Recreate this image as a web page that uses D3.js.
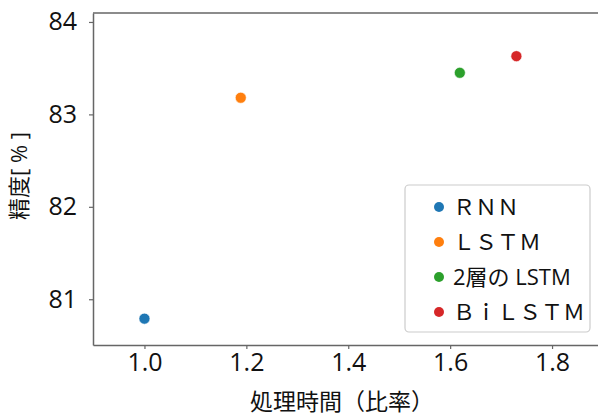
<!DOCTYPE html>
<html>
<head>
<meta charset="utf-8">
<script src="https://cdn.jsdelivr.net/npm/d3@7"></script>
<style>
  body { margin: 0; background: #fff; }
  svg { display: block; }
  text { font-family: "Open Sans", "Noto Sans CJK JP", sans-serif; fill: #111; }
</style>
</head>
<body>
<script>
// data
const models = ["ＲＮＮ", "ＬＳＴＭ", "2層の LSTM", "ＢｉＬＳＴＭ"];
const timeRatio = [1.0, 1.189, 1.619, 1.73];
const accuracy = [80.79, 83.18, 83.45, 83.63];
const colors = ["#1f77b4", "#ff7f0e", "#2ca02c", "#d62728"];
const xTicks = [1.0, 1.2, 1.4, 1.6, 1.8];
const yTicks = [81, 82, 83, 84];

const width = 598, height = 418;
const plotLeft = 93, plotRight = 603, plotTop = 13, plotBottom = 345;
const fontStack = "'Open Sans', 'Noto Sans CJK JP', sans-serif";

const svg = d3.select("body").append("svg")
  .attr("width", width)
  .attr("height", height);

const x = d3.scaleLinear().domain([0.899, 1.9]).range([plotLeft, plotRight]);
const y = d3.scaleLinear().domain([80.505, 84.097]).range([plotBottom, plotTop]);

// axes
const xAxis = svg.append("g")
  .attr("transform", `translate(0,${plotBottom})`)
  .call(d3.axisBottom(x).tickValues(xTicks).tickFormat(d3.format(".1f"))
    .tickSizeInner(4).tickSizeOuter(0).tickPadding(4));
const yAxis = svg.append("g")
  .attr("transform", `translate(${plotLeft},0)`)
  .call(d3.axisLeft(y).tickValues(yTicks).tickFormat(d3.format("d"))
    .tickSizeInner(4).tickSizeOuter(0).tickPadding(12));

[xAxis, yAxis].forEach(g => {
  g.select(".domain").attr("stroke", "#666").attr("stroke-width", 1.5);
  g.selectAll(".tick line").attr("stroke", "#666").attr("stroke-width", 1.2);
  g.selectAll(".tick text").attr("font-size", 25).attr("fill", "#111")
    .style("font-family", fontStack);
});

// top spine
svg.append("line")
  .attr("x1", plotLeft).attr("x2", plotRight)
  .attr("y1", plotTop).attr("y2", plotTop)
  .attr("stroke", "#666").attr("stroke-width", 1.5);

// points
svg.selectAll("circle.pt")
  .data(models)
  .enter()
  .append("circle")
  .attr("class", "pt")
  .attr("cx", (d, i) => x(timeRatio[i]))
  .attr("cy", (d, i) => y(accuracy[i]))
  .attr("r", 5.5)
  .attr("fill", (d, i) => colors[i])
  .attr("stroke", "#fff")
  .attr("stroke-width", 0.6);

// axis labels
svg.append("text")
  .attr("x", 342)
  .attr("y", 410)
  .attr("text-anchor", "middle")
  .attr("font-size", 23)
  .text("処理時間（比率）");

svg.append("text")
  .attr("transform", "translate(27,176) rotate(-90)")
  .attr("text-anchor", "middle")
  .attr("font-size", 22)
  .text("精度[ % ]");

// legend
const legend = svg.append("g");
legend.append("rect")
  .attr("x", 405).attr("y", 185)
  .attr("width", 185).attr("height", 147)
  .attr("rx", 4)
  .attr("fill", "#fff")
  .attr("fill-opacity", 0.8)
  .attr("stroke", "#ccc")
  .attr("stroke-width", 1.2);

const rows = legend.selectAll("g.row")
  .data(models)
  .enter()
  .append("g")
  .attr("class", "row")
  .attr("transform", (d, i) => `translate(439,${207 + i * 35})`);

rows.append("circle")
  .attr("r", 5)
  .attr("fill", (d, i) => colors[i]);

rows.append("text")
  .attr("x", 14)
  .attr("dy", "0.36em")
  .attr("font-size", 22)
  .text(d => d);
</script>
</body>
</html>
